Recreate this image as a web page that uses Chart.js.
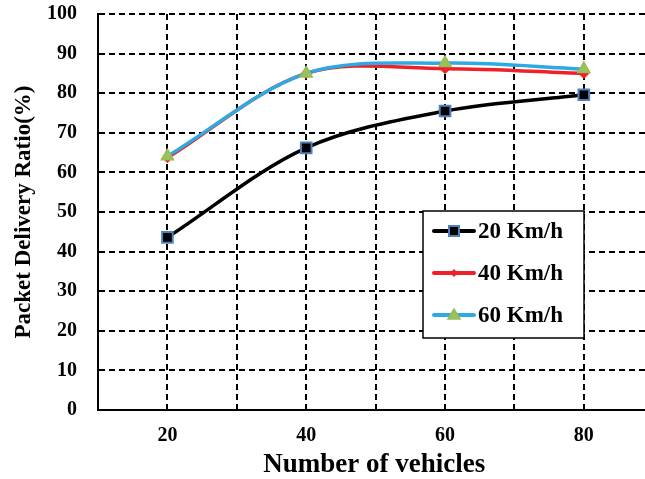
<!DOCTYPE html>
<html>
<head>
<meta charset="utf-8">
<script src="https://cdn.jsdelivr.net/npm/chart.js@4/dist/chart.umd.min.js"></script>
<style>
  html, body { margin: 0; padding: 0; background: #fff; overflow: hidden; }
  #wrap { width: 660px; height: 479px; }
</style>
</head>
<body>
<div id="wrap"><canvas id="c" width="660" height="479"></canvas></div>
<script>
const vehicles = [20, 40, 60, 80];
const xTickLabels = [20, 40, 60, 80];
const seriesNames = ['20 Km/h', '40 Km/h', '60 Km/h'];
const speed20 = [43.6, 66.2, 75.5, 79.6];
const speed40 = [63.7, 85.0, 86.2, 85.0];
const speed60 = [64.1, 85.0, 87.6, 86.1];

const SERIF = '"Liberation Serif", "Times New Roman", serif';
const colors = { s20: '#000000', s40: '#ee2129', s60: '#2eaae2' };

function pts(arr) { return vehicles.map((v, i) => ({ x: v, y: arr[i] })); }

const legendPlugin = {
  id: 'boxLegend',
  afterDatasetsDraw(chart) {
    const ctx = chart.ctx;
    ctx.save();
    const bx = 423, by = 211, bw = 161, bh = 127;
    ctx.fillStyle = '#fff';
    ctx.fillRect(bx, by, bw, bh);
    ctx.strokeStyle = '#000';
    ctx.lineWidth = 1.5;
    ctx.setLineDash([]);
    ctx.strokeRect(bx, by, bw, bh);
    const rows = [231, 273, 315];
    const lineCols = [colors.s20, colors.s40, colors.s60];
    rows.forEach((y, i) => {
      ctx.strokeStyle = lineCols[i];
      ctx.lineWidth = 4;
      ctx.lineCap = 'round';
      ctx.beginPath();
      ctx.moveTo(434, y); ctx.lineTo(474, y); ctx.stroke();
      const mx = 454;
      if (i === 0) {
        ctx.fillStyle = '#000';
        ctx.strokeStyle = '#4f81bd';
        ctx.lineWidth = 2;
        ctx.fillRect(mx - 5, y - 5, 10, 10);
        ctx.strokeRect(mx - 5, y - 5, 10, 10);
      } else if (i === 1) {
        ctx.fillStyle = colors.s40;
        ctx.beginPath();
        ctx.moveTo(mx, y - 4); ctx.lineTo(mx + 4, y); ctx.lineTo(mx, y + 4); ctx.lineTo(mx - 4, y);
        ctx.closePath(); ctx.fill();
      } else {
        ctx.fillStyle = '#9bc25a';
        ctx.strokeStyle = '#9bbb59';
        ctx.lineWidth = 1.5;
        ctx.beginPath();
        ctx.moveTo(mx, y - 6); ctx.lineTo(mx + 6, y + 4); ctx.lineTo(mx - 6, y + 4);
        ctx.closePath(); ctx.fill(); ctx.stroke();
      }
      ctx.fillStyle = '#000';
      ctx.font = 'bold 23px ' + SERIF;
      ctx.textBaseline = 'middle';
      ctx.textAlign = 'left';
      ctx.fillText(seriesNames[i], 478, y + 1);
    });
    ctx.restore();
  }
};

new Chart(document.getElementById('c'), {
  type: 'line',
  data: {
    datasets: [
      {
        label: seriesNames[0], data: pts(speed20), order: 2,
        borderColor: colors.s20, borderWidth: 3.5, tension: 0.33,
        pointStyle: 'rect', pointRadius: 7.5, pointBackgroundColor: '#000', pointBorderColor: '#4f81bd', pointBorderWidth: 2
      },
      {
        label: seriesNames[1], data: pts(speed40), order: 1,
        borderColor: colors.s40, borderWidth: 3.5, tension: 0.33,
        pointStyle: 'rectRot', pointRadius: 5, pointBackgroundColor: colors.s40, pointBorderColor: colors.s40, pointBorderWidth: 1
      },
      {
        label: seriesNames[2], data: pts(speed60), order: 0,
        borderColor: colors.s60, borderWidth: 3.5, tension: 0.33,
        pointStyle: 'triangle', pointRadius: 7, pointBackgroundColor: '#9bc25a', pointBorderColor: '#9bbb59', pointBorderWidth: 1.5
      }
    ]
  },
  options: {
    responsive: false,
    animation: false,
    events: [],
    layout: { padding: { left: 0, right: 4, top: 14, bottom: 0 } },
    plugins: { legend: { display: false }, tooltip: { enabled: false } },
    scales: {
      x: {
        type: 'linear', min: 10, max: 89.6,
        afterFit(s) { s.height = 69; s.paddingLeft = 0; s.paddingRight = 0; },
        border: { display: true, color: '#000', width: 2, dash: [6, 4] },
        grid: { color: '#000', lineWidth: 2, drawTicks: false },
        ticks: {
          stepSize: 10, includeBounds: false, padding: 14, color: '#000',
          font: { family: SERIF, size: 20, weight: 'bold' },
          callback: (v) => xTickLabels.includes(v) ? String(v) : ''
        },
        title: {
          display: true, text: 'Number of vehicles', color: '#000',
          font: { family: SERIF, size: 27, weight: 'bold', lineHeight: 1 },
          padding: { top: 0, bottom: 0 }
        }
      },
      y: {
        min: 0, max: 100,
        afterFit(s) { s.width = 98; s.paddingTop = 0; s.paddingBottom = 0; },
        border: { display: true, color: '#000', width: 2, dash: [6, 4] },
        grid: { color: '#000', lineWidth: 2, drawTicks: false },
        ticks: {
          stepSize: 10, padding: 21, color: '#000',
          font: { family: SERIF, size: 20, weight: 'bold' }
        },
        title: {
          display: true, text: 'Packet Delivery Ratio(%)', color: '#000',
          font: { family: SERIF, size: 23, weight: 'bold', lineHeight: 1 },
          padding: { top: 13, bottom: 0 }
        }
      }
    }
  },
  plugins: [legendPlugin]
});
</script>
</body>
</html>
